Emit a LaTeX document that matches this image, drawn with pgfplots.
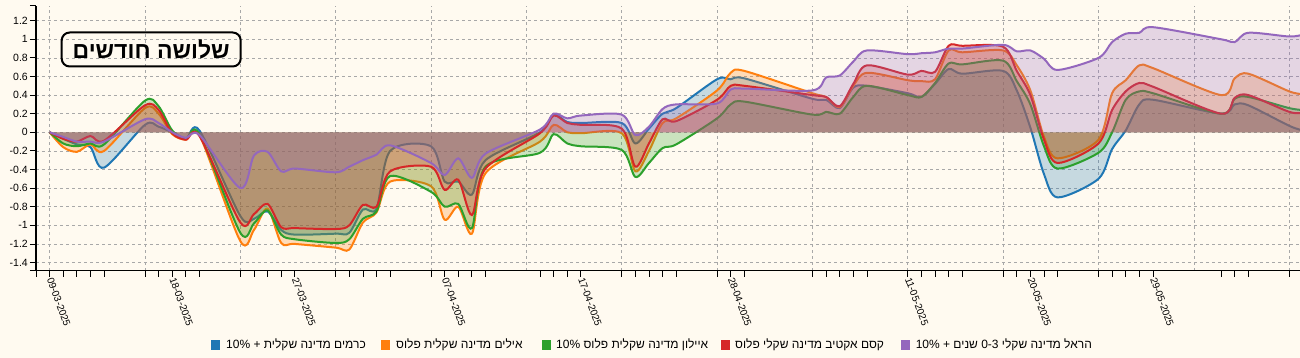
\documentclass[border=0pt]{standalone}
\usepackage{fontspec}
\setmainfont{Liberation Sans}
\newfontfamily\heb[Script=Hebrew]{Liberation Sans}
\usepackage{pgfplots}
\usepackage{pgfplotstable}
\pgfplotsset{compat=1.18}
\TeXXeTstate=1
\definecolor{cB}{HTML}{1F77B4}
\definecolor{cO}{HTML}{FF7F0E}
\definecolor{cG}{HTML}{2CA02C}
\definecolor{cR}{HTML}{D62728}
\definecolor{cP}{HTML}{9467BD}
\definecolor{bgc}{HTML}{FFFAF0}
\definecolor{gridc}{HTML}{A8A8A8}

\pgfplotstableread{
d    b      o      g      r      p
0    0      0      0      0      0
1   -0.07  -0.16  -0.12  -0.07  -0.05
2   -0.13  -0.21  -0.15  -0.10  -0.10
3   -0.16  -0.13  -0.12  -0.04  -0.10
4   -0.38  -0.20  -0.13  -0.09  -0.10
7    0.08   0.26   0.34   0.29   0.14
8    0.06   0.20   0.28   0.24   0.10
9    0.00  -0.02   0.02  -0.01   0.00
10  -0.07  -0.08  -0.07  -0.08  -0.06
11   0.02  -0.03  -0.02  -0.04  -0.03
14  -0.90  -1.17  -1.08  -0.97  -0.60
15  -0.93  -1.05  -0.98  -0.88  -0.25
16  -0.85  -0.82  -0.84  -0.77  -0.21
17  -1.05  -1.19  -1.10  -1.02  -0.42
18  -1.10  -1.20  -1.15  -1.03  -0.39
21  -1.09  -1.24  -1.19  -1.04  -0.43
22  -1.08  -1.26  -1.15  -1.00  -0.37
23  -0.83  -0.97  -0.93  -0.78  -0.30
24  -0.82  -0.86  -0.85  -0.80  -0.24
25  -0.20  -0.53  -0.47  -0.42  -0.14
28  -0.15  -0.58  -0.64  -0.37  -0.33
29  -0.53  -0.94  -0.80  -0.62  -0.46
30  -0.53  -0.80  -0.77  -0.51  -0.28
31  -0.67  -1.09  -1.03  -0.89  -0.49
32  -0.30  -0.44  -0.37  -0.39  -0.23
36   0.00  -0.10  -0.22  -0.01   0.03
37   0.19   0.08  -0.02   0.18   0.20
38   0.11   0.00  -0.12   0.10   0.15
39   0.10  -0.01  -0.15   0.08   0.18
42   0.10  -0.01  -0.19   0.04   0.19
43  -0.12  -0.42  -0.48  -0.37  -0.03
44   0.04  -0.20  -0.33  -0.12   0.06
45   0.20   0.10  -0.17   0.14   0.25
46   0.26   0.15  -0.13   0.12   0.30
49   0.57   0.45   0.15   0.35   0.31
50   0.57   0.64   0.30   0.50   0.46
51   0.58   0.66   0.33   0.50   0.47
56   0.36   0.42   0.19   0.40   0.45
57   0.35   0.38   0.22   0.38   0.59
58   0.26   0.27   0.20   0.28   0.61
59   0.48   0.50   0.38   0.52   0.76
60   0.50   0.64   0.50   0.72   0.88
63   0.42   0.56   0.40   0.62   0.84
64   0.38   0.55   0.38   0.66   0.85
65   0.52   0.57   0.53   0.65   0.86
66   0.68   0.88   0.74   0.93   0.90
67   0.63   0.86   0.73   0.93   0.90
70   0.66   0.88   0.77   0.92   0.94
71   0.45   0.72   0.55   0.66   0.87
72   0.05   0.45   0.30   0.40   0.88
73  -0.45  -0.05  -0.15  -0.08   0.79
74  -0.70  -0.28  -0.39  -0.33   0.67
77  -0.50  -0.08  -0.22  -0.12   0.80
78  -0.18   0.42   0.00   0.24   0.97
79   0.02   0.56   0.35   0.44   1.06
80   0.30   0.72   0.44   0.53   1.07
81   0.35   0.69   0.42   0.49   1.13
86   0.20   0.40   0.20   0.20   1.00
87   0.30   0.58   0.36   0.37   0.97
88   0.29   0.63   0.38   0.40   1.07
91   0.07   0.44   0.26   0.22   1.03
92   0.02   0.41   0.24   0.21   1.05
}\data

\begin{document}
\begin{tikzpicture}[x=1pt,y=1pt]
\path[use as bounding box, fill=bgc] (0,0) rectangle (1300,-358);
\begin{axis}[
  at={(36pt,-270.7pt)}, anchor=south west,
  scale only axis, width=1264pt, height=265pt,
  xmin=-1, xmax=91.79, ymin=-1.488, ymax=1.361,
  axis x line=bottom, axis y line=left,
  axis line style={-, line width=1.2pt, black},
  tick align=outside, major tick length=6pt,
  tick style={black, line width=0.8pt},
  xtick={-1,0,1,2,3,4,7,8,9,10,11,14,15,16,17,18,21,22,23,24,25,28,29,30,31,32,36,37,38,39,42,43,44,45,46,49,50,51,56,57,58,59,60,63,64,65,66,67,70,71,72,73,74,77,78,79,80,81,86,87,88,91},
  xticklabels={,09-03-2025,,,,,,,18-03-2025,,,,,,,27-03-2025,,,,,,,07-04-2025,,,,,,,17-04-2025,,,,,,,28-04-2025,,,,,,,11-05-2025,,,,,,,20-05-2025,,,,,,,29-05-2025,,,,},
  minor xtick={0,7,14,21,28,35,42,49,56,63,70,77,84,91},
  minor tick length=0pt,
  xminorgrids=true, ymajorgrids=true, xmajorgrids=false,
  major grid style={gridc, dash pattern=on 3pt off 3pt, line width=0.6pt},
  minor grid style={gridc, dash pattern=on 3pt off 3pt, line width=0.6pt},
  ytick={-1.4,-1.2,-1,-0.8,-0.6,-0.4,-0.2,0,0.2,0.4,0.6,0.8,1,1.2},
  yticklabels={-1.4,-1.2,-1,-0.8,-0.6,-0.4,-0.2,0,0.2,0.4,0.6,0.8,1,1.2},
  extra y ticks={-1.488,1.361}, extra y tick labels={},
  extra tick style={grid=none},
  yticklabel style={font=\fontsize{10.5}{12}\selectfont, inner sep=2pt},
  xticklabel style={font=\fontsize{10}{12}\selectfont, rotate=-70, anchor=west, inner sep=1pt},
  every axis plot/.append style={smooth, tension=0.5},
]
\addplot[draw=none, fill=cB, fill opacity=0.25] table[x=d,y=b]{\data} \closedcycle;
\addplot[cB, line width=2pt] table[x=d,y=b]{\data};
\addplot[draw=none, fill=cO, fill opacity=0.25] table[x=d,y=o]{\data} \closedcycle;
\addplot[cO, line width=2pt] table[x=d,y=o]{\data};
\addplot[draw=none, fill=cG, fill opacity=0.25] table[x=d,y=g]{\data} \closedcycle;
\addplot[cG, line width=2pt] table[x=d,y=g]{\data};
\addplot[draw=none, fill=cR, fill opacity=0.25] table[x=d,y=r]{\data} \closedcycle;
\addplot[cR, line width=2pt] table[x=d,y=r]{\data};
\addplot[draw=none, fill=cP, fill opacity=0.25] table[x=d,y=p]{\data} \closedcycle;
\addplot[cP, line width=2pt] table[x=d,y=p]{\data};
\end{axis}
% title box
\node[draw=black, line width=2pt, rounded corners=8pt, minimum width=179pt, minimum height=34pt,
      font=\heb\bfseries\fontsize{23}{26}\selectfont] at (151.2,-49.5) {\beginR שלושה חודשים\endR};
% legend
\begin{scope}[every node/.style={anchor=west, inner sep=0pt, font=\heb\fontsize{12}{14}\selectfont}]
\fill[cB] (210.8,-340.4) rectangle ++(9.4,-9.4);
\node at (226,-345.1) {\beginR כרמים מדינה שקלית + \beginL10\%\endL\endR};
\fill[cO] (381,-340.4) rectangle ++(9.4,-9.4);
\node at (396,-345.1) {\beginR אילים מדינה שקלית פלוס\endR};
\fill[cG] (541.5,-340.4) rectangle ++(9.4,-9.4);
\node at (556,-345.1) {\beginR איילון מדינה שקלית פלוס \beginL10\%\endL\endR};
\fill[cR] (720.5,-340.4) rectangle ++(9.4,-9.4);
\node at (735,-345.1) {\beginR קסם אקטיב מדינה שקלי פלוס\endR};
\fill[cP] (901,-340.4) rectangle ++(9.4,-9.4);
\node at (915.6,-345.1) {\beginR הראל מדינה שקלי \beginL0-3\endL{} שנים + \beginL10\%\endL\endR};
\end{scope}
\end{tikzpicture}
\end{document}
